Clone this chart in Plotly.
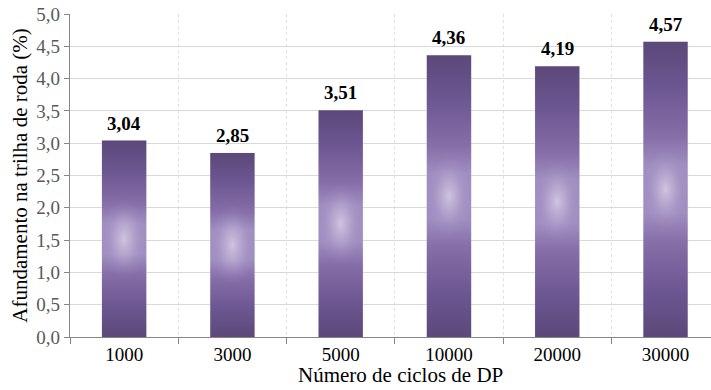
import plotly.graph_objects as go

# Rut depth (%) after each number of loading cycles
ciclos = ["1000", "3000", "5000", "10000", "20000", "30000"]
afundamento = [3.04, 2.85, 3.51, 4.36, 4.19, 4.57]
y_ticks = [0.0, 0.5, 1.0, 1.5, 2.0, 2.5, 3.0, 3.5, 4.0, 4.5, 5.0]

FONT = "Liberation Serif, Times New Roman, serif"
BAR_HALF = 0.205          # half bar width, in category units
X_RANGE = [-0.5, 5.42]

# vertical shading of each column (bottom -> top)
base_scale = [
    [0.0, "#5c4879"],
    [0.15, "#6c5691"],
    [0.32, "#866ea8"],
    [0.42, "#a08ec0"],
    [0.58, "#a08ec0"],
    [0.68, "#866ea8"],
    [0.85, "#6c5691"],
    [1.0, "#5c4879"],
]
# soft highlight in the middle of each column
glow_scale = [
    [0.0, "rgba(212,203,226,0.9)"],
    [0.4, "rgba(200,188,220,0.5)"],
    [0.75, "rgba(180,165,210,0.15)"],
    [1.0, "rgba(180,165,210,0.0)"],
]

fig = go.Figure()

# category axis carrier (transparent bars)
fig.add_trace(go.Bar(
    x=ciclos, y=afundamento, marker=dict(color="rgba(0,0,0,0)"),
    width=2 * BAR_HALF, hoverinfo="skip", showlegend=False,
))

for i, v in enumerate(afundamento):
    x0, x1 = i - BAR_HALF, i + BAR_HALF
    fig.add_trace(go.Scatter(
        x=[x0, x1, x1, x0, x0], y=[0, 0, v, v, 0],
        xaxis="x2", yaxis="y", mode="lines", line=dict(width=0),
        fill="toself",
        fillgradient=dict(type="vertical", start=0, stop=v, colorscale=base_scale),
        hoverinfo="skip", showlegend=False,
    ))
    mid = v / 2
    half_h = min(v / 2, 0.62)
    fig.add_trace(go.Scatter(
        x=[x0, x1, x1, x0, x0],
        y=[mid - half_h, mid - half_h, mid + half_h, mid + half_h, mid - half_h],
        xaxis="x2", yaxis="y", mode="lines", line=dict(width=0),
        fill="toself",
        fillgradient=dict(type="radial", colorscale=glow_scale),
        hoverinfo="skip", showlegend=False,
    ))
    fig.add_annotation(
        x=i, y=v, xref="x2", yref="y", yanchor="bottom", yshift=5,
        text="<b>" + f"{v:.2f}".replace(".", ",") + "</b>", showarrow=False,
        font=dict(family=FONT, size=19, color="#000000"),
    )

# x-axis title, placed under the tick labels
fig.add_annotation(
    x=2.55, xref="x2", y=-(389 - 337) / 323, yref="paper", yanchor="bottom",
    text="Número de ciclos de DP", showarrow=False,
    font=dict(family=FONT, size=21, color="#000000"),
)

fig.update_layout(
    width=711, height=390,
    margin=dict(l=70, r=0, t=14, b=53),
    paper_bgcolor="white", plot_bgcolor="white",
    separators=",.",
    font=dict(family=FONT, color="#000000"),
    xaxis=dict(
        type="category", categoryorder="array", categoryarray=ciclos,
        range=X_RANGE, tickson="boundaries",
        ticks="outside", ticklen=6, tickcolor="#868686", tickwidth=1,
        showline=True, linecolor="#868686", linewidth=1.3,
        showgrid=True, gridcolor="#e0e0e0", griddash="dot", gridwidth=1,
        tickfont=dict(family=FONT, size=19, color="#000000"),
    ),
    xaxis2=dict(overlaying="x", range=X_RANGE, visible=False),
    yaxis=dict(
        range=[0, 5], tickvals=y_ticks, tickformat=".1f",
        ticks="outside", ticklen=5, tickcolor="#868686",
        showline=True, linecolor="#868686", linewidth=1.3,
        showgrid=True, gridcolor="#d9d9d9", gridwidth=1.3, zeroline=False,
        tickfont=dict(family=FONT, size=19, color="#595959"),
        title=dict(text="Afundamento na trilha de roda (%)",
                   font=dict(family=FONT, size=21, color="#000000"), standoff=2),
    ),
    bargap=0.59,
)

fig.write_html("out.html")
